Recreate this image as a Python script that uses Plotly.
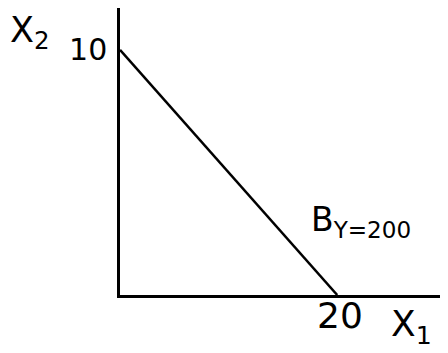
import plotly.graph_objects as go

# Budget line endpoints (X1 intercept 20, X2 intercept 10)
budget_x1 = [0, 20]
budget_x2 = [10, 0]
x_ticks = [20]
y_ticks = [10]
x_tick_labels = ["20"]
y_tick_labels = ["10"]
budget_label = "B<sub>Y=200</sub>"
x_axis_label = "X<sub>1</sub>"
y_axis_label = "X<sub>2</sub>"

fig = go.Figure()
fig.add_trace(go.Scatter(
    x=budget_x1, y=budget_x2, mode="lines",
    line=dict(color="black", width=2.5),
    showlegend=False, hoverinfo="skip",
))

font_family = "DejaVu Sans, sans-serif"

# x tick labels placed close under the axis
for xv, lab in zip(x_ticks, x_tick_labels):
    fig.add_annotation(x=xv, y=0, xref="x", yref="y", text=lab,
                       showarrow=False, xanchor="center", yanchor="top",
                       xshift=3, yshift=2,
                       font=dict(family=font_family, size=36, color="black"))

fig.add_annotation(x=20, y=0, xref="x", yref="y", text=budget_label,
                   showarrow=False, xanchor="left", yanchor="bottom",
                   xshift=-28, yshift=50,
                   font=dict(family=font_family, size=33, color="black"))
fig.add_annotation(x=20, y=0, xref="x", yref="y", text=x_axis_label,
                   showarrow=False, xanchor="left", yanchor="top",
                   xshift=52, yshift=-6,
                   font=dict(family=font_family, size=36, color="black"))
fig.add_annotation(x=0, y=1, xref="paper", yref="paper", text=y_axis_label,
                   showarrow=False, xanchor="left", yanchor="top",
                   xshift=-112, yshift=0,
                   font=dict(family=font_family, size=35, color="black"))

fig.update_xaxes(range=[0, 30.2], showgrid=False, zeroline=False,
                 showline=True, linecolor="black", linewidth=3,
                 tickvals=x_ticks, showticklabels=False, ticks="")
fig.update_yaxes(range=[0, 11.71], showgrid=False, zeroline=False,
                 showline=True, linecolor="black", linewidth=2.5,
                 tickvals=y_ticks, ticktext=y_tick_labels, ticks="",
                 ticklabelstandoff=4,
                 tickfont=dict(family=font_family, size=30, color="black"))

fig.update_layout(
    width=448, height=353,
    margin=dict(l=112, r=8, t=0, b=66),
    paper_bgcolor="white", plot_bgcolor="white",
)

fig.write_html("out.html")
